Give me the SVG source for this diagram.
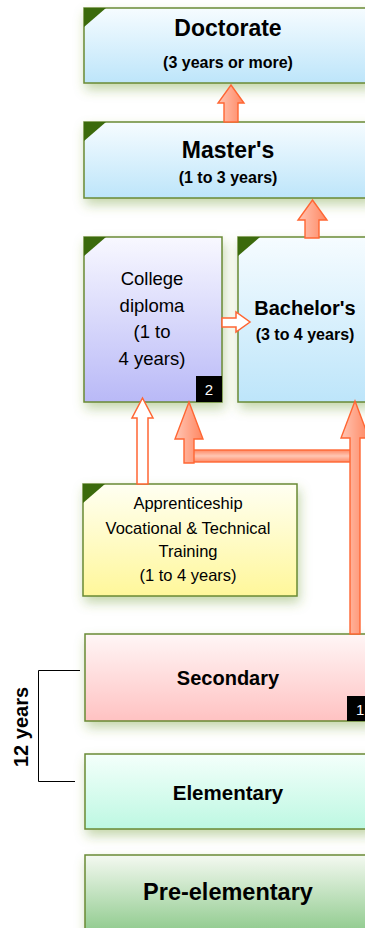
<svg xmlns="http://www.w3.org/2000/svg" width="365" height="928" viewBox="0 0 365 928">
<defs>
<filter id="sh" x="-20%" y="-20%" width="140%" height="150%">
<feDropShadow dx="2" dy="6" stdDeviation="6" flood-color="#6f9a2f" flood-opacity="0.4"/>
</filter>
<linearGradient id="gBlue" x1="0" y1="0" x2="0" y2="1"><stop offset="0" stop-color="#f6fcff"/><stop offset="1" stop-color="#bde5fa"/></linearGradient>
<linearGradient id="gLav" x1="0" y1="0" x2="0" y2="1"><stop offset="0" stop-color="#f8f8ff"/><stop offset="1" stop-color="#b9b9f7"/></linearGradient>
<linearGradient id="gYel" x1="0" y1="0" x2="0" y2="1"><stop offset="0" stop-color="#fffff2"/><stop offset="1" stop-color="#fff79a"/></linearGradient>
<linearGradient id="gPink" x1="0" y1="0" x2="0" y2="1"><stop offset="0" stop-color="#fff6f6"/><stop offset="1" stop-color="#ffc2c2"/></linearGradient>
<linearGradient id="gMint" x1="0" y1="0" x2="0" y2="1"><stop offset="0" stop-color="#f4fffb"/><stop offset="1" stop-color="#bdf8e2"/></linearGradient>
<linearGradient id="gGreen" x1="0" y1="0" x2="0" y2="1"><stop offset="0" stop-color="#f4f9f1"/><stop offset="1" stop-color="#8cc98a"/></linearGradient>
<linearGradient id="gArrV" x1="0" y1="0" x2="1" y2="0"><stop offset="0" stop-color="#ffc6b5"/><stop offset="1" stop-color="#ff8660"/></linearGradient>
<linearGradient id="gArrH" x1="0" y1="0" x2="0" y2="1"><stop offset="0" stop-color="#ff8a66"/><stop offset="0.5" stop-color="#ffc6b3"/><stop offset="1" stop-color="#ff8a66"/></linearGradient>
</defs>
<style>
.box{stroke:#6a8a34;stroke-width:1.5;filter:url(#sh)}
.tri{fill:#3b6a0c}
.t{font-family:"Liberation Sans",Arial,sans-serif;fill:#000;text-anchor:middle}
.b{font-weight:bold}
.arr{fill:url(#gArrV);stroke:#ff6633;stroke-width:1.4;stroke-linejoin:miter}
.bar{fill:url(#gArrH);stroke:#ff6633;stroke-width:1.4}
.hol{fill:#fff;stroke:#ff6633;stroke-width:1.5;stroke-linejoin:miter}
.badge{fill:#000}
.bt{font-family:"Liberation Sans",Arial,sans-serif;fill:#fff;font-size:15px}
.br{fill:none;stroke:#000;stroke-width:1}
</style>

<g id="doctorate">
<rect class="box" x="84" y="8" width="288" height="75" fill="url(#gBlue)"/>
<polygon class="tri" points="84,8 106,8 84,27"/>
<text class="t b" x="228" y="36" font-size="23">Doctorate</text>
<text class="t b" x="228" y="68" font-size="16">(3 years or more)</text>
</g>

<g id="masters">
<rect class="box" x="84" y="122" width="288" height="76" fill="url(#gBlue)"/>
<polygon class="tri" points="84,122 106,122 84,141"/>
<text class="t b" x="228" y="158" font-size="23">Master's</text>
<text class="t b" x="228" y="183" font-size="16">(1 to 3 years)</text>
</g>

<g id="college">
<rect class="box" x="84" y="237" width="138" height="165" fill="url(#gLav)"/>
<polygon class="tri" points="84,237 106,237 84,256"/>
<text class="t" x="152" y="285" font-size="18.5">College</text>
<text class="t" x="152" y="312" font-size="18.5">diploma</text>
<text class="t" x="152" y="338" font-size="18.5">(1 to</text>
<text class="t" x="152" y="365" font-size="18.5">4 years)</text>
<rect class="badge" x="196" y="376" width="26" height="26"/>
<text class="bt" x="209" y="395" text-anchor="middle">2</text>
</g>

<g id="bachelors">
<rect class="box" x="238" y="237" width="134" height="165" fill="url(#gBlue)"/>
<polygon class="tri" points="238,237 260,237 238,256"/>
<text class="t b" x="305" y="315" font-size="20">Bachelor's</text>
<text class="t b" x="305" y="340" font-size="16">(3 to 4 years)</text>
</g>

<g id="apprenticeship">
<rect class="box" x="83" y="484" width="214" height="112" fill="url(#gYel)"/>
<polygon class="tri" points="83,484 105,484 83,503"/>
<text class="t" x="188" y="509" font-size="16.5">Apprenticeship</text>
<text class="t" x="188" y="534" font-size="16.5">Vocational &amp; Technical</text>
<text class="t" x="188" y="557" font-size="16.5">Training</text>
<text class="t" x="188" y="581" font-size="16.5">(1 to 4 years)</text>
</g>

<g id="secondary">
<rect class="box" x="85" y="634" width="287" height="87" fill="url(#gPink)"/>
<text class="t b" x="228" y="685" font-size="20">Secondary</text>
<rect class="badge" x="347" y="696" width="30" height="25"/>
<text class="bt" x="356" y="715">1</text>
</g>

<g id="elementary">
<rect class="box" x="85" y="754" width="287" height="75" fill="url(#gMint)"/>
<text class="t b" x="228" y="800" font-size="20.5">Elementary</text>
</g>

<g id="preelementary">
<rect class="box" x="85" y="855" width="287" height="80" fill="url(#gGreen)"/>
<text class="t b" x="228" y="900" font-size="23.5">Pre-elementary</text>
</g>

<g id="bracket">
<path class="br" d="M80,670.5 H38.5 V781.5 H75"/>
<text class="t b" font-size="20" transform="translate(28,727) rotate(-90)">12 years</text>
</g>

<g id="connectors">
<path class="arr" d="M224,122 V103 H218 L231,85 L244,103 H238 V122 Z"/>
<path class="arr" d="M305,238 V220 H298 L312.5,200 L327,220 H319 V238 Z"/>
<path class="hol" d="M222,318 H236 V312 L250,322 L236,332 V327 H222 Z"/>
<path class="hol" d="M137,484 V418 H132 L142.5,398 L153,418 H148 V484 Z"/>
<rect class="bar" x="189" y="450" width="166" height="12"/>
<path class="arr" d="M184,463 V439 H175 L189,402 L203,439 H194 V463 Z"/>
<path class="arr" d="M350,634 V438 H341 L355,401 L369,438 H360 V634 Z"/>
</g>
</svg>
